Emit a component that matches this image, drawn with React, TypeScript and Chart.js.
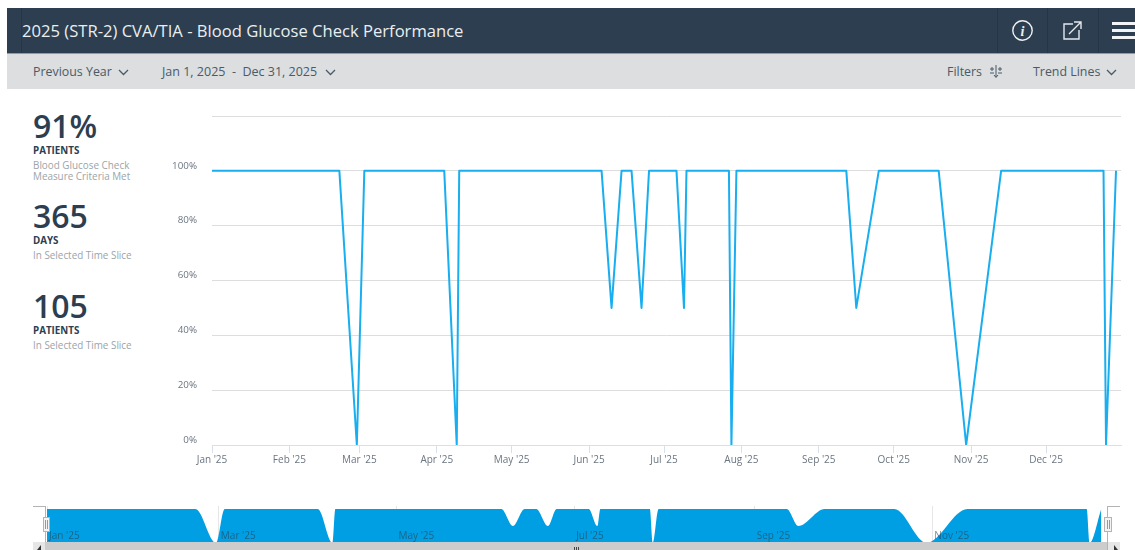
import React, { useEffect, useRef } from "react";
import { Chart, registerables } from "chart.js";

Chart.register(...registerables);

const dayOfYear = [0, 51, 58, 61, 93, 98, 99, 156, 160, 164, 168, 172, 175, 186, 189, 190, 207, 208, 210, 254, 258, 267, 291, 302, 316, 357, 358, 362];
const percentMet = [100, 100, 0, 100, 100, 0, 100, 100, 50, 100, 100, 50, 100, 100, 50, 100, 100, 0, 100, 100, 50, 100, 100, 0, 100, 100, 0, 100];
const monthStartDays = [0, 31, 59, 90, 120, 151, 181, 212, 243, 273, 304, 334];
const monthLabels = ["Jan '25", "Feb '25", "Mar '25", "Apr '25", "May '25", "Jun '25", "Jul '25", "Aug '25", "Sep '25", "Oct '25", "Nov '25", "Dec '25"];
const navMonthStartDays = [0, 59, 120, 181, 243, 304];
const yTicks = [0, 20, 40, 60, 80, 100, 120];

const FONT = "'Open Sans', sans-serif";

const points = dayOfYear.map((d, i) => ({ x: d, y: percentMet[i] }));
const labelFor = (v: number) => {
  const i = monthStartDays.indexOf(v);
  return i >= 0 ? monthLabels[i] : "";
};

function Box(props: { l: number; t: number; w: number; h: number; c: string; extra?: React.CSSProperties }) {
  return (
    <div style={{ position: "absolute", left: props.l, top: props.t, width: props.w, height: props.h, background: props.c, ...props.extra }} />
  );
}

function Text(props: { l: number; t: number; s: number; c: string; w?: number; children: React.ReactNode }) {
  return (
    <div style={{ position: "absolute", left: props.l, top: props.t, fontSize: props.s, color: props.c, fontWeight: props.w ?? 400, lineHeight: `${Math.round(props.s * 1.2)}px`, whiteSpace: "nowrap" }}>
      {props.children}
    </div>
  );
}

function Chevron(props: { l: number; t: number }) {
  return (
    <svg style={{ position: "absolute", left: props.l, top: props.t }} width="11" height="7" viewBox="0 0 11 7">
      <path d="M1 1 L5.5 5.5 L10 1" fill="none" stroke="#4a5a68" strokeWidth="1.3" />
    </svg>
  );
}

function Stat(props: { t: number; big: string; head: string; lines: string[] }) {
  return (
    <>
      <Text l={33} t={props.t + 1} s={32} c="#2c3e50" w={600}>{props.big}</Text>
      <Text l={33} t={props.t + 39} s={9.8} c="#2c3e50" w={700}>{props.head}</Text>
      {props.lines.map((line, i) => (
        <Text key={line} l={33} t={props.t + 52.5 + i * 11.5} s={9.9} c="#9ba4a9">{line}</Text>
      ))}
    </>
  );
}

export default function App() {
  const mainRef = useRef<HTMLCanvasElement>(null);
  const navRef = useRef<HTMLCanvasElement>(null);

  useEffect(() => {
    const main = new Chart(mainRef.current!, {
      type: "line",
      data: {
        datasets: [{ data: points, borderColor: "#18aeef", borderWidth: 2, borderJoinStyle: "round", pointRadius: 0, tension: 0, fill: false }],
      },
      options: {
        animation: false,
        responsive: false,
        layout: { padding: { top: 26, right: 14, left: 0, bottom: 0 } },
        plugins: { legend: { display: false }, tooltip: { enabled: false } },
        scales: {
          x: {
            type: "linear",
            min: 0,
            max: 364,
            afterFit: (s: any) => { s.height = 45; },
            afterBuildTicks: (s: any) => { s.ticks = monthStartDays.map((value) => ({ value })); },
            grid: { drawOnChartArea: false, drawTicks: true, tickLength: 8, color: "#d8e0ec" },
            border: { color: "#d8e0ec" },
            ticks: {
              autoSkip: false,
              maxRotation: 0,
              padding: 1,
              color: "#6b7580",
              font: { family: FONT, size: 10 },
              callback: (v: any) => labelFor(Number(v)),
            },
          },
          y: {
            min: 0,
            max: 120,
            afterFit: (s: any) => { s.width = 212; },
            afterBuildTicks: (s: any) => { s.ticks = yTicks.map((value) => ({ value })); },
            grid: { drawTicks: false, color: "#dddddd" },
            border: { display: false },
            ticks: {
              padding: 15,
              labelOffset: -5,
              color: "#6b7580",
              font: { family: FONT, size: 9.8 },
              callback: (v: any) => (Number(v) >= 120 ? "" : `${v}%`),
            },
          },
        },
      },
    } as any);

    const nav = new Chart(navRef.current!, {
      type: "line",
      data: {
        datasets: [{ data: points, borderWidth: 0, borderColor: "#009fe3", backgroundColor: "#009fe3", pointRadius: 0, cubicInterpolationMode: "monotone", fill: "origin" }],
      },
      options: {
        animation: false,
        responsive: false,
        layout: { padding: 0 },
        plugins: { legend: { display: false }, tooltip: { enabled: false } },
        scales: {
          x: {
            type: "linear",
            min: 0,
            max: 365,
            afterFit: (s: any) => { s.height = 0; },
            afterBuildTicks: (s: any) => { s.ticks = navMonthStartDays.map((value) => ({ value })); },
            grid: { drawTicks: false, color: "#e6e6e6" },
            border: { display: false },
            ticks: {
              autoSkip: false,
              maxRotation: 0,
              mirror: true,
              align: "start",
              padding: 1,
              labelOffset: 2,
              z: 1,
              color: "rgba(44,62,80,0.62)",
              font: { family: FONT, size: 10 },
              callback: (v: any) => labelFor(Number(v)),
            },
          },
          y: { display: false, min: 0, max: 109 },
        },
      },
    } as any);

    return () => {
      main.destroy();
      nav.destroy();
    };
  }, []);

  return (
    <div style={{ position: "fixed", left: 0, top: 0, width: 1135, height: 550, overflow: "hidden", background: "#fff", fontFamily: FONT }}>
      <Box l={7} t={8} w={1128} h={45} c="#2c3e50" />
      <Box l={7} t={53} w={1128} h={1} c="#8f9aa4" />
      <Box l={7} t={54} w={1128} h={35} c="#dcdee0" />
      {[21, 997, 1047, 1098].map((x) => (
        <Box key={x} l={x} t={8} w={1} h={45} c="#26364a" />
      ))}
      <Text l={22} t={21} s={16.6} c="#eaeef1" w={500}>2025 (STR-2) CVA/TIA - Blood Glucose Check Performance</Text>

      <svg style={{ position: "absolute", left: 1011, top: 19 }} width="23" height="23" viewBox="0 0 23 23">
        <circle cx="11.5" cy="11.5" r="9.7" fill="none" stroke="#eef1f3" strokeWidth="1.4" />
        <text x="11.5" y="16.5" textAnchor="middle" fontFamily="'Liberation Serif', serif" fontStyle="italic" fontWeight="700" fontSize="14" fill="#eef1f3">i</text>
      </svg>
      <svg style={{ position: "absolute", left: 1062, top: 20 }} width="21" height="21" viewBox="0 0 21 21">
        <path d="M11 4 H2 V19 H17 V10" fill="none" stroke="#e4e8eb" strokeWidth="1.4" />
        <path d="M7 14 L19 2 M12 2 H19 V9" fill="none" stroke="#e4e8eb" strokeWidth="1.4" />
      </svg>
      <Box l={1112} t={22} w={23} h={3} c="#f2f4f5" />
      <Box l={1112} t={29} w={23} h={3} c="#f2f4f5" />
      <Box l={1112} t={36} w={23} h={3} c="#f2f4f5" />

      <Text l={33} t={64} s={12.4} c="#4a5a68">Previous Year</Text>
      <Chevron l={118} t={69} />
      <Text l={162} t={64} s={12.5} c="#4a5a68">Jan 1, 2025&nbsp; - &nbsp;Dec 31, 2025</Text>
      <Chevron l={325} t={69} />
      <Text l={947} t={64} s={12.4} c="#4a5a68">Filters</Text>
      <svg style={{ position: "absolute", left: 988, top: 64 }} width="16" height="15" viewBox="0 0 16 15">
        <path d="M8 1 V13 M6 11 L8 13.5 L10 11 M2 5 H6 M4 3 V7 M10 5 H14 M12 3 V7 M2 9 H6 M10 9 H14" fill="none" stroke="#4a5a68" strokeWidth="1" />
      </svg>
      <Text l={1033} t={64} s={12.4} c="#4a5a68">Trend Lines</Text>
      <Chevron l={1106} t={69} />

      <Stat t={106} big="91%" head="PATIENTS" lines={["Blood Glucose Check", "Measure Criteria Met"]} />
      <Stat t={196} big="365" head="DAYS" lines={["In Selected Time Slice"]} />
      <Stat t={286} big="105" head="PATIENTS" lines={["In Selected Time Slice"]} />

      <canvas ref={mainRef} width={1135} height={400} style={{ position: "absolute", left: 0, top: 90 }} />
      <canvas ref={navRef} width={1064} height={37} style={{ position: "absolute", left: 46, top: 505.5 }} />

      <Box l={33} t={542} w={1087} h={8} c="#cccccc" />
      <Box l={33} t={542} w={12} h={8} c="#e6e6e6" />
      <Box l={1108} t={542} w={12} h={8} c="#e6e6e6" />
      <svg style={{ position: "absolute", left: 37, top: 545 }} width="5" height="5" viewBox="0 0 5 5"><path d="M4 0 V5 H0 Z" fill="#333" /></svg>
      <svg style={{ position: "absolute", left: 1113, top: 545 }} width="5" height="5" viewBox="0 0 5 5"><path d="M1 0 V5 H5 Z" fill="#333" /></svg>
      {[574, 576, 578].map((x) => (
        <Box key={x} l={x} t={547} w={1} h={3} c="#444" />
      ))}
      <Box l={33} t={506} w={13} h={1} c="#b3b3b3" />
      <Box l={45} t={506} w={1} h={36} c="#b3b3b3" />
      <Box l={1107} t={506} w={13} h={1} c="#b3b3b3" />
      <Box l={1107} t={506} w={1} h={44} c="#b3b3b3" />
      <Box l={43} t={517} w={5} h={13} c="#f4f4f4" extra={{ border: "1px solid #b3b3b3" }} />
      <Box l={1104} t={517} w={6} h={13} c="#f4f4f4" extra={{ border: "1px solid #b3b3b3" }} />
      <Box l={45} t={520} w={1} h={9} c="#999" />
      <Box l={47} t={520} w={1} h={9} c="#999" />
      <Box l={1107} t={520} w={1} h={9} c="#999" />
      <Box l={1109} t={520} w={1} h={9} c="#999" />
    </div>
  );
}
